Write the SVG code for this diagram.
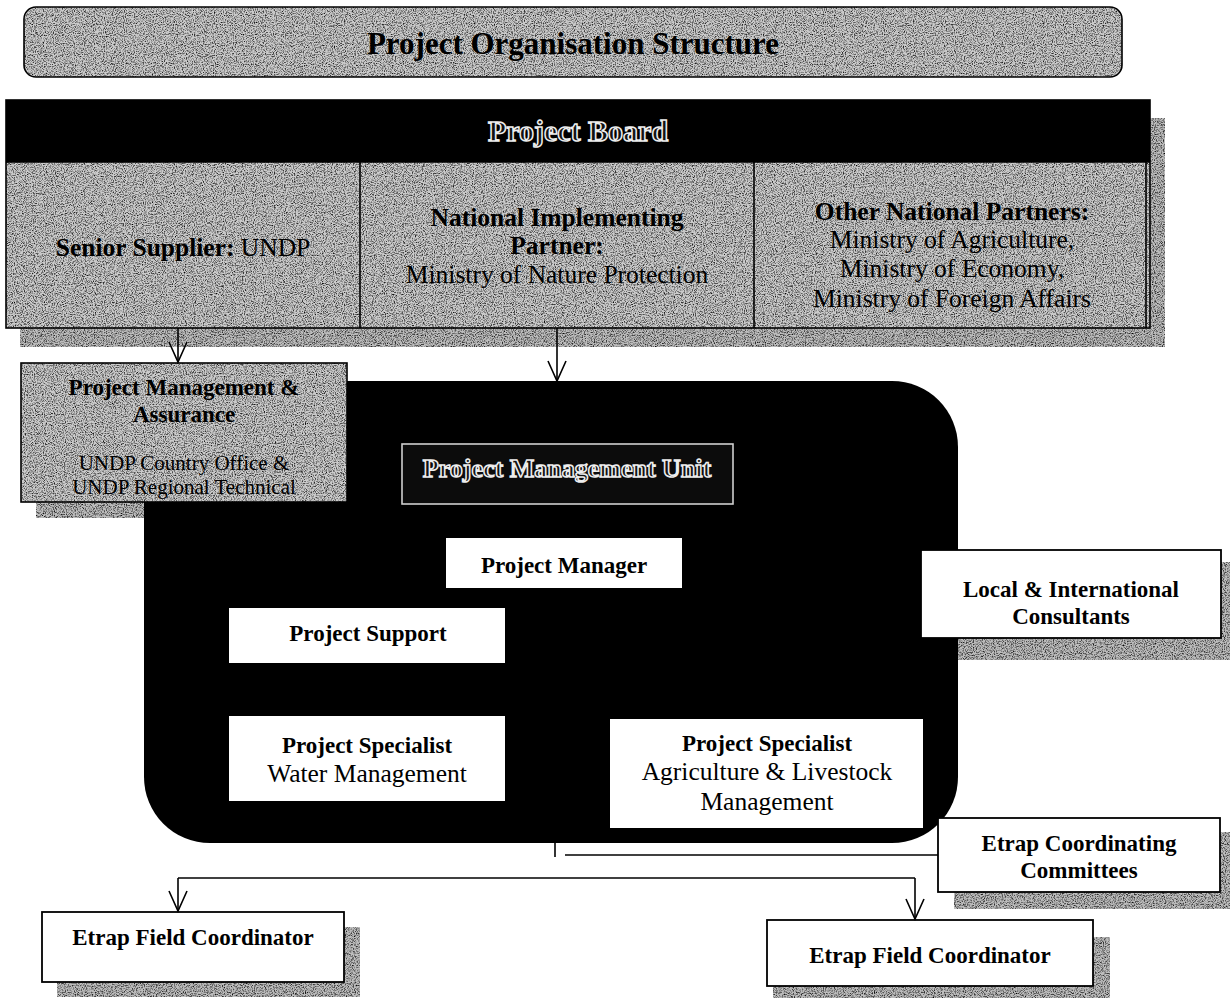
<svg xmlns="http://www.w3.org/2000/svg" width="1230" height="998" viewBox="0 0 1230 998">
<style>
.t{font-family:"Liberation Serif","Times New Roman",serif;text-anchor:middle;fill:#000}
.b{font-weight:bold}
.s23{font-size:23px}
.s21{font-size:21px}
.s25{font-size:25.5px}
.ol{fill:#111;stroke:#eee;stroke-width:1.5;font-weight:bold}
.ln{stroke:#000;stroke-width:1.6;fill:none}
.box{fill:#fff;stroke:#000;stroke-width:1.8}
.frame{fill:none;stroke:#000;stroke-width:1.6}
.grey{fill:#cbcbcb;filter:url(#grain)}
.shadow{fill:#bdbdbd;filter:url(#grain)}
.white{fill:#fff}
</style>
<defs>
<filter id="grain" x="0" y="0" width="1" height="1" color-interpolation-filters="sRGB">
<feTurbulence type="fractalNoise" baseFrequency="0.9" numOctaves="2" seed="5" result="n"/>
<feColorMatrix in="n" type="matrix" values="0 0 0 0 0  0 0 0 0 0  0 0 0 0 0  -2.2 0 0 0 1.25" result="dots"/>
<feComposite in="dots" in2="SourceGraphic" operator="in" result="d2"/>
<feMerge><feMergeNode in="SourceGraphic"/><feMergeNode in="d2"/></feMerge>
</filter>
<marker id="arr" markerUnits="userSpaceOnUse" viewBox="-24 -12 26 24" refX="0" refY="0" markerWidth="26" markerHeight="24" orient="auto" overflow="visible">
<path d="M-20,-9 L0,0 L-20,9" fill="none" stroke="#000" stroke-width="1.6"/>
</marker>
</defs>
<rect width="1230" height="998" fill="#fff"/>

<g id="title">
<rect class="grey" x="24" y="7" width="1098" height="70" rx="12"/>
<rect class="frame" x="24" y="7" width="1098" height="70" rx="12" stroke-width="2"/>
<text class="t b" x="573" y="54" font-size="31">Project Organisation Structure</text>
</g>

<g id="project-board">
<rect class="shadow" x="20" y="118" width="1145" height="229"/>
<rect class="grey" x="6" y="100" width="1144" height="228"/>
<rect x="6" y="100" width="1144" height="62" fill="#000"/>
<rect class="frame" x="6" y="100" width="1144" height="228"/>
<line class="ln" x1="1146" y1="100" x2="1146" y2="328" stroke-width="1"/>
<line class="ln" x1="6" y1="162" x2="1150" y2="162"/>
<line class="ln" x1="360" y1="162" x2="360" y2="328"/>
<line class="ln" x1="754" y1="162" x2="754" y2="328"/>
<text class="t ol" x="578" y="141" font-size="30">Project Board</text>
</g>

<g id="senior-supplier">
<text class="t s25" x="183" y="256"><tspan class="b">Senior Supplier:</tspan> UNDP</text>
</g>

<g id="national-implementing-partner">
<text class="t s25 b" x="557" y="226">National Implementing</text>
<text class="t s25 b" x="557" y="254">Partner:</text>
<text class="t s25" x="557" y="283">Ministry of Nature Protection</text>
</g>

<g id="other-national-partners">
<text class="t s25 b" x="952" y="220">Other National Partners:</text>
<text class="t s25" x="952" y="248">Ministry of Agriculture,</text>
<text class="t s25" x="952" y="277">Ministry of Economy,</text>
<text class="t s25" x="952" y="307">Ministry of Foreign Affairs</text>
</g>

<g id="local-consultants-shadow">
<rect class="shadow" x="958" y="562" width="274" height="98"/>
</g>

<g id="project-management-unit">
<rect x="144" y="381" width="814" height="462" rx="66" fill="#000"/>
<rect x="402" y="444" width="331" height="60" fill="#0c0c0c" stroke="#cfcfcf" stroke-width="1.6"/>
<text class="t ol" x="567" y="477" font-size="26">Project Management Unit</text>
</g>

<g id="project-management-assurance">
<rect class="shadow" x="36" y="378" width="108" height="140"/>
<rect class="grey" x="21" y="363" width="326" height="139"/>
<rect class="frame" x="21" y="363" width="326" height="139"/>
<text class="t b s23" x="184" y="395">Project Management &amp;</text>
<text class="t b s23" x="184" y="422">Assurance</text>
<text class="t s21" x="184" y="470">UNDP Country Office &amp;</text>
<text class="t s21" x="184" y="494">UNDP Regional Technical</text>
</g>

<g id="project-manager">
<rect class="white" x="446" y="538" width="236" height="50"/>
<text class="t b s23" x="564" y="573">Project Manager</text>
</g>

<g id="project-support">
<rect class="white" x="229" y="608" width="276" height="55"/>
<text class="t b s23" x="368" y="641">Project Support</text>
</g>

<g id="specialist-water">
<rect class="white" x="229" y="716" width="276" height="85"/>
<text class="t b s23" x="367" y="753">Project Specialist</text>
<text class="t s25" x="367" y="782">Water Management</text>
</g>

<g id="specialist-agriculture">
<rect class="white" x="610" y="719" width="313" height="109"/>
<text class="t b s23" x="767" y="751">Project Specialist</text>
<text class="t s25" x="767" y="780">Agriculture &amp; Livestock</text>
<text class="t s25" x="767" y="810">Management</text>
</g>

<g id="local-international-consultants">
<rect class="box" x="921" y="550" width="300" height="88" stroke-width="1.5"/>
<text class="t b s23" x="1071" y="597">Local &amp; International</text>
<text class="t b s23" x="1071" y="624">Consultants</text>
</g>

<g id="etrap-coordinating-committees">
<rect class="shadow" x="954" y="832" width="278" height="77"/>
<rect class="box" x="938" y="818" width="282" height="74"/>
<text class="t b s23" x="1079" y="851">Etrap Coordinating</text>
<text class="t b s23" x="1079" y="878">Committees</text>
</g>

<g id="etrap-field-coordinator-left">
<rect class="shadow" x="57" y="927" width="303" height="70"/>
<rect class="box" x="42" y="912" width="302" height="70"/>
<text class="t b s23" x="193" y="945">Etrap Field Coordinator</text>
</g>

<g id="etrap-field-coordinator-right">
<rect class="shadow" x="773" y="937" width="337" height="61"/>
<rect class="box" x="767" y="920" width="326" height="66"/>
<text class="t b s23" x="930" y="963">Etrap Field Coordinator</text>
</g>

<g id="connectors">
<line class="ln" x1="178" y1="328" x2="178" y2="362" marker-end="url(#arr)"/>
<line class="ln" x1="557" y1="328" x2="557" y2="381" marker-end="url(#arr)"/>
<line class="ln" x1="555" y1="843" x2="555" y2="857"/>
<line class="ln" x1="565" y1="855" x2="938" y2="855"/>
<line class="ln" x1="178" y1="878" x2="915" y2="878"/>
<line class="ln" x1="178" y1="878" x2="178" y2="911" marker-end="url(#arr)"/>
<line class="ln" x1="915" y1="878" x2="915" y2="919" marker-end="url(#arr)"/>
</g>
</svg>
